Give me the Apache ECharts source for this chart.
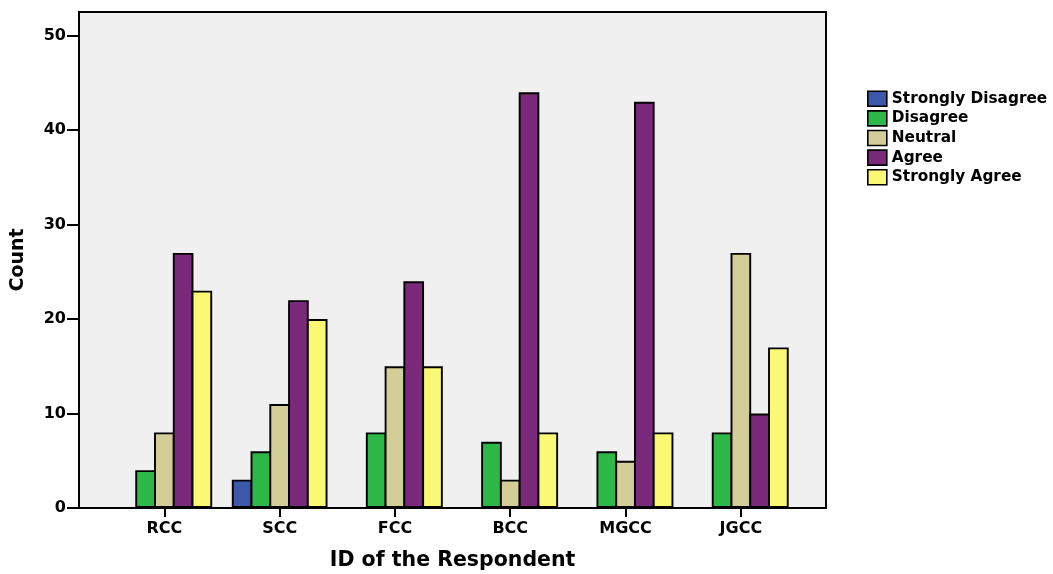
<!DOCTYPE html>
<html>
<head>
<meta charset="utf-8">
<script src="https://cdn.jsdelivr.net/npm/echarts@6/dist/echarts.min.js"></script>
<style>
  html, body { margin: 0; padding: 0; background: #ffffff; }
  #chart { width: 1053px; height: 574px; }
</style>
</head>
<body>
<div id="chart"></div>
<script>
// Respondent groups and answer counts per response level
const categories = ['RCC', 'SCC', 'FCC', 'BCC', 'MGCC', 'JGCC'];
const stronglyDisagree = [null, 3, null, null, null, null];
const disagree         = [4, 6, 8, 7, 6, 8];
const neutral          = [8, 11, 15, 3, 5, 27];
const agree            = [27, 22, 24, 44, 43, 10];
const stronglyAgree    = [23, 20, 15, 8, 8, 17];
const yTicks = [0, 10, 20, 30, 40, 50];

const FONT = 'DejaVu Sans';
const seriesDefs = [
  { name: 'Strongly Disagree', data: stronglyDisagree, color: '#3d57ab' },
  { name: 'Disagree',          data: disagree,         color: '#2eb848' },
  { name: 'Neutral',           data: neutral,          color: '#d3ce97' },
  { name: 'Agree',             data: agree,            color: '#7b2a7b' },
  { name: 'Strongly Agree',    data: stronglyAgree,    color: '#fbf873' }
];

const chart = echarts.init(document.getElementById('chart'), null, { renderer: 'canvas' });

const Y_MAX = 52.5;

chart.setOption({
  animation: false,
  backgroundColor: '#ffffff',
  grid: [
    // framed plot panel carrying the count axis
    { left: 79, right: 227, top: 12, bottom: 66, show: true, outerBoundsMode: 'none',
      backgroundColor: '#f0f0f0', borderColor: '#000000', borderWidth: 2 },
    // inset panel holding the grouped bars
    { left: 106.7, right: 254.5, top: 12, bottom: 66, outerBoundsMode: 'none' }
  ],
  xAxis: [
    { gridIndex: 0, type: 'value', min: 0, max: 1, show: false },
    {
      gridIndex: 1, type: 'category', data: categories,
      name: 'ID of the Respondent', nameLocation: 'middle', nameGap: 42,
      nameTextStyle: { fontFamily: FONT, fontWeight: 'bold', fontSize: 20.5, color: '#000' },
      axisLine: { show: false },
      axisTick: { show: true, alignWithLabel: true, length: 9, lineStyle: { color: '#000', width: 2 } },
      axisLabel: { fontFamily: FONT, fontWeight: 'bold', fontSize: 16, color: '#000', margin: 13 }
    }
  ],
  yAxis: [
    {
      gridIndex: 0, type: 'value', min: 0, max: Y_MAX,
      name: 'Count', nameLocation: 'middle', nameGap: 51, nameRotate: 90,
      nameTextStyle: { fontFamily: FONT, fontWeight: 'bold', fontSize: 19, color: '#000' },
      axisLine: { show: true, lineStyle: { color: '#000', width: 2 } },
      axisTick: { show: true, length: 12, customValues: yTicks, lineStyle: { color: '#000', width: 2 } },
      axisLabel: { fontFamily: FONT, fontWeight: 'bold', fontSize: 16, color: '#000', margin: 13,
                   customValues: yTicks },
      splitLine: { show: false }
    },
    { gridIndex: 1, type: 'value', min: 0, max: Y_MAX, show: false, splitLine: { show: false } }
  ],
  legend: {
    orient: 'vertical', left: 867, top: 90.5, padding: 0,
    itemWidth: 19, itemHeight: 15, itemGap: 3,
    icon: 'rect',
    itemStyle: { borderColor: '#000', borderWidth: 1.6 },
    textStyle: { fontFamily: FONT, fontWeight: 'bold', fontSize: 15.3, color: '#000', lineHeight: 15 },
    data: seriesDefs.map(s => s.name)
  },
  series: seriesDefs.map(s => ({
    name: s.name,
    type: 'bar',
    xAxisIndex: 1, yAxisIndex: 1,
    data: s.data,
    barGap: '-9%',
    barCategoryGap: '17%',
    itemStyle: { color: s.color, borderColor: '#000', borderWidth: 1.9 }
  }))
});
</script>
</body>
</html>
